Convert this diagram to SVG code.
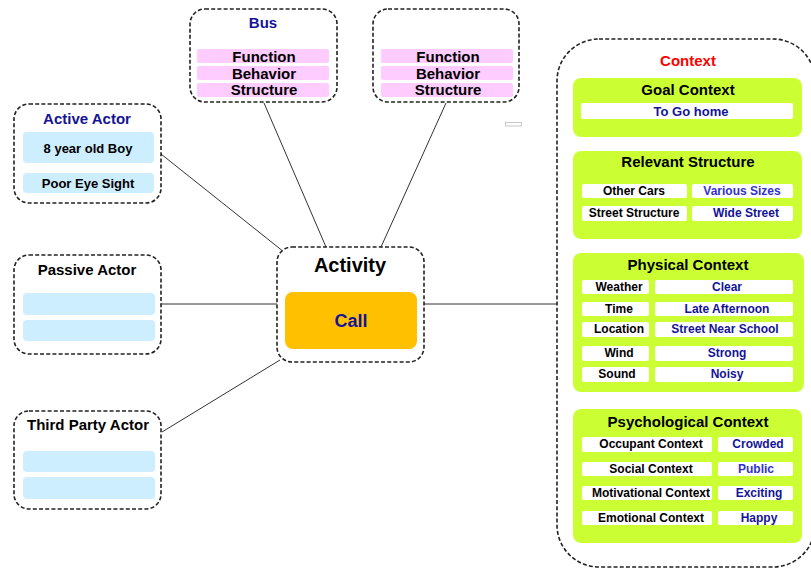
<svg xmlns="http://www.w3.org/2000/svg" width="811" height="569" viewBox="0 0 811 569">
  <style>
    text { font-family: "Liberation Sans", Arial, sans-serif; font-weight: bold; text-anchor: middle; dominant-baseline: central; }
    .frame { fill: #ffffff; stroke: #222222; stroke-width: 1.6; stroke-dasharray: 4 2.2; }
    .link { stroke: #333333; stroke-width: 1; fill: none; }
    .blue { fill: #cceeff; }
    .pink { fill: #ffccff; }
    .green { fill: #ccff33; }
    .cell { fill: #ffffff; }
    .t15 { font-size: 15px; fill: #000000; }
    .t13 { font-size: 13px; fill: #000000; }
    .t12 { font-size: 12px; fill: #000000; }
    .navy { fill: #141496; }
    .mid { fill: #3333cc; }
  </style>

  <!-- connectors -->
  <g id="connectors">
    <line class="link" x1="161" y1="154" x2="284" y2="252"/>
    <line class="link" x1="264" y1="103" x2="326" y2="247"/>
    <line class="link" x1="446" y1="103" x2="381" y2="247"/>
    <line class="link" x1="161" y1="304" x2="277" y2="304"/>
    <line class="link" x1="162" y1="432" x2="280" y2="360"/>
    <line class="link" x1="424" y1="304" x2="557" y2="304"/>
  </g>

  <!-- active actor -->
  <g id="active-actor">
    <rect class="frame" x="14" y="104" width="147" height="99" rx="15"/>
    <text class="t15 navy" x="87" y="118">Active Actor</text>
    <rect class="blue" x="23" y="132" width="131" height="31" rx="4"/>
    <text class="t13" x="88" y="148">8 year old Boy</text>
    <rect class="blue" x="23" y="173" width="131" height="20" rx="4"/>
    <text class="t13" x="88" y="183">Poor Eye Sight</text>
  </g>

  <!-- passive actor -->
  <g id="passive-actor">
    <rect class="frame" x="14" y="255" width="147" height="99" rx="15"/>
    <text class="t15" x="87" y="269.5">Passive Actor</text>
    <rect class="blue" x="23" y="293" width="132" height="22" rx="4"/>
    <rect class="blue" x="23" y="320" width="132" height="21" rx="4"/>
  </g>

  <!-- third party actor -->
  <g id="third-party-actor">
    <rect class="frame" x="14" y="411" width="147" height="98" rx="15"/>
    <text class="t15" x="88" y="424.5">Third Party Actor</text>
    <rect class="blue" x="23" y="451" width="132" height="21" rx="4"/>
    <rect class="blue" x="23" y="477" width="132" height="22" rx="4"/>
  </g>

  <!-- bus -->
  <g id="bus">
    <rect class="frame" x="190" y="9" width="147" height="93" rx="15"/>
    <text class="t15 navy" x="263" y="22.5">Bus</text>
    <rect class="pink" x="197" y="49" width="132" height="14" rx="2"/>
    <text class="t15" x="264" y="56.5">Function</text>
    <rect class="pink" x="197" y="66" width="132" height="14" rx="2"/>
    <text class="t15" x="264" y="73.5">Behavior</text>
    <rect class="pink" x="197" y="83" width="132" height="14" rx="2"/>
    <text class="t15" x="264" y="89.5">Structure</text>
  </g>

  <!-- second object -->
  <g id="object">
    <rect class="frame" x="373" y="9" width="146" height="93" rx="15"/>
    <rect class="pink" x="381" y="49" width="132" height="14" rx="2"/>
    <text class="t15" x="448" y="56.5">Function</text>
    <rect class="pink" x="381" y="66" width="132" height="14" rx="2"/>
    <text class="t15" x="448" y="73.5">Behavior</text>
    <rect class="pink" x="381" y="83" width="132" height="14" rx="2"/>
    <text class="t15" x="448" y="89.5">Structure</text>
  </g>

  <!-- small marker shape -->
  <rect x="505.5" y="122.5" width="16" height="3.5" fill="#ffffff" stroke="#bbbbbb" stroke-width="0.8"/>

  <!-- activity -->
  <g id="activity">
    <rect class="frame" x="277" y="247" width="147" height="115" rx="15"/>
    <text x="350" y="265" style="font-size:20px" fill="#000000">Activity</text>
    <rect x="285" y="292" width="132" height="57" rx="8" fill="#ffc000"/>
    <text x="351" y="321" style="font-size:18px" class="navy">Call</text>
  </g>

  <!-- context -->
  <g id="context">
    <rect class="frame" x="557" y="39" width="258" height="528" rx="42"/>
    <text x="688" y="60" style="font-size:15px" fill="#ff0000">Context</text>

    <g id="goal-context">
      <rect class="green" x="573" y="78" width="229" height="59" rx="8"/>
      <text class="t15" x="688" y="89.5">Goal Context</text>
      <rect class="cell" x="581" y="103" width="212" height="16" rx="2"/>
      <text class="t13 navy" x="691" y="111">To Go home</text>
    </g>

    <g id="relevant-structure">
      <rect class="green" x="573" y="151" width="229" height="88" rx="8"/>
      <text class="t15" x="688" y="161.5">Relevant Structure</text>
      <rect class="cell" x="582" y="184" width="105" height="14" rx="2"/>
      <text class="t12" x="634" y="191">Other Cars</text>
      <rect class="cell" x="692" y="184" width="101" height="14" rx="2"/>
      <text class="t12 mid" x="742" y="191">Various Sizes</text>
      <rect class="cell" x="582" y="206" width="105" height="15" rx="2"/>
      <text class="t12" x="634" y="213">Street Structure</text>
      <rect class="cell" x="692" y="206" width="101" height="15" rx="2"/>
      <text class="t12 navy" x="746" y="213">Wide Street</text>
    </g>

    <g id="physical-context">
      <rect class="green" x="573" y="253" width="231" height="139" rx="8"/>
      <text class="t15" x="688" y="264.5">Physical Context</text>
      <rect class="cell" x="582" y="280" width="67" height="14" rx="2"/>
      <text class="t12" x="619" y="287">Weather</text>
      <rect class="cell" x="655" y="280" width="138" height="14" rx="2"/>
      <text class="t12 navy" x="727" y="287">Clear</text>
      <rect class="cell" x="582" y="302" width="67" height="14" rx="2"/>
      <text class="t12" x="619" y="309">Time</text>
      <rect class="cell" x="655" y="302" width="138" height="14" rx="2"/>
      <text class="t12 navy" x="727" y="309">Late Afternoon</text>
      <rect class="cell" x="582" y="322" width="67" height="15" rx="2"/>
      <text class="t12" x="619" y="329">Location</text>
      <rect class="cell" x="655" y="322" width="138" height="15" rx="2"/>
      <text class="t12 navy" x="725" y="329">Street Near School</text>
      <rect class="cell" x="582" y="346" width="67" height="15" rx="2"/>
      <text class="t12" x="619" y="353">Wind</text>
      <rect class="cell" x="655" y="346" width="138" height="15" rx="2"/>
      <text class="t12 navy" x="727" y="353">Strong</text>
      <rect class="cell" x="582" y="367" width="67" height="15" rx="2"/>
      <text class="t12" x="617" y="374">Sound</text>
      <rect class="cell" x="655" y="367" width="138" height="15" rx="2"/>
      <text class="t12 navy" x="727" y="374">Noisy</text>
    </g>

    <g id="psychological-context">
      <rect class="green" x="573" y="409" width="229" height="134" rx="8"/>
      <text class="t15" x="688" y="421.5">Psychological Context</text>
      <rect class="cell" x="582" y="437" width="130" height="15" rx="2"/>
      <text class="t12" x="651" y="444">Occupant Context</text>
      <rect class="cell" x="718" y="437" width="75" height="15" rx="2"/>
      <text class="t12 navy" x="758" y="444">Crowded</text>
      <rect class="cell" x="582" y="462" width="130" height="14" rx="2"/>
      <text class="t12" x="651" y="469">Social Context</text>
      <rect class="cell" x="718" y="462" width="75" height="14" rx="2"/>
      <text class="t12 mid" x="756" y="469">Public</text>
      <rect class="cell" x="582" y="486" width="130" height="14" rx="2"/>
      <text class="t12" x="651" y="493">Motivational Context</text>
      <rect class="cell" x="718" y="486" width="75" height="14" rx="2"/>
      <text class="t12 navy" x="759" y="493">Exciting</text>
      <rect class="cell" x="582" y="511" width="130" height="14" rx="2"/>
      <text class="t12" x="651" y="518">Emotional Context</text>
      <rect class="cell" x="718" y="511" width="75" height="14" rx="2"/>
      <text class="t12 navy" x="759" y="518">Happy</text>
    </g>
  </g>
</svg>
